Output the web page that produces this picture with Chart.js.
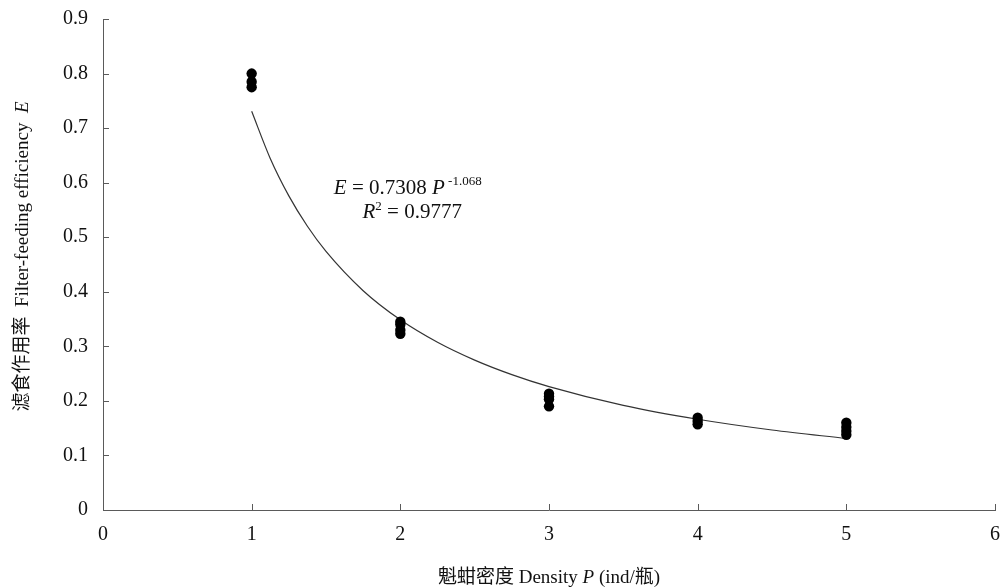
<!DOCTYPE html>
<html><head><meta charset="utf-8">
<script src="https://cdn.jsdelivr.net/npm/chart.js@4"></script>
<style>html,body{margin:0;padding:0;background:#fff}#wrap{width:1003px;height:587px;position:relative}</style>
</head><body><div id="wrap"><canvas id="c"></canvas></div>
<script>
const densityX     = [1, 1, 1, 2, 2, 2, 2, 3, 3, 3, 3, 4, 4, 4, 5, 5, 5, 5];
const efficiencyY  = [0.800, 0.785, 0.775, 0.345, 0.340, 0.330, 0.323, 0.213, 0.208, 0.203, 0.190, 0.169, 0.163, 0.157, 0.160, 0.152, 0.145, 0.138];
// Power trendline E = 0.7308 P^-1.068, sampled values
const trendX = [1, 1.125, 1.25, 1.375, 1.5, 1.75, 2, 2.25, 2.5, 2.75, 3, 3.5, 4, 4.5, 5];
const trendY = [0.7308, 0.6444, 0.5758, 0.5201, 0.4740, 0.4020, 0.3486, 0.3074, 0.2747, 0.2481, 0.2261, 0.1917, 0.1663, 0.1466, 0.1310];
const xTickValues = [0, 1, 2, 3, 4, 5, 6];
const yTickValues = [0, 0.1, 0.2, 0.3, 0.4, 0.5, 0.6, 0.7, 0.8, 0.9];
const equationLine = ['E', ' = 0.7308 ', 'P', ' -1.068'];
const r2Line = ['R', '2', ' = 0.9777'];
const yTitle = ['滤食作用率  Filter-feeding efficiency  ', 'E'];
const xTitle = ['魁蚶密度 Density ', 'P', ' (ind/瓶)'];

const SERIF = '"Liberation Serif", "Times New Roman", "Noto Sans CJK SC", serif';
const AXIS_COLOR = '#5a5a5a';

function drawRuns(ctx, runs, x, y) {
  let total = 0;
  runs.forEach(r => { ctx.font = r.font; r.w = ctx.measureText(r.t).width; total += r.w; });
  let cx = x - total / 2;
  ctx.textAlign = 'left';
  ctx.textBaseline = 'alphabetic';
  runs.forEach(r => { ctx.font = r.font; ctx.fillText(r.t, cx, y + (r.dy || 0)); cx += r.w; });
}

const decor = {
  id: 'decor',
  afterDraw(chart) {
    const ctx = chart.ctx;
    const xs = chart.scales.x, ys = chart.scales.y;
    ctx.save();
    ctx.strokeStyle = AXIS_COLOR;
    ctx.lineWidth = 1;
    ctx.beginPath();
    xTickValues.forEach(v => {
      const px = Math.round(xs.getPixelForValue(v)) + 0.5;
      ctx.moveTo(px, ys.bottom); ctx.lineTo(px, ys.bottom - 6);
    });
    yTickValues.forEach(v => {
      const py = Math.round(ys.getPixelForValue(v)) + 0.5;
      ctx.moveTo(xs.left, py); ctx.lineTo(xs.left + 6, py);
    });
    ctx.stroke();

    ctx.fillStyle = '#111';
    const n = '21px ' + SERIF, it = 'italic 21px ' + SERIF, sup = '13px ' + SERIF;
    const ax = xs.getPixelForValue(2.05);
    const ay = ys.getPixelForValue(0.58);
    drawRuns(ctx, [
      {t: equationLine[0], font: it}, {t: equationLine[1], font: n},
      {t: equationLine[2], font: it}, {t: equationLine[3], font: sup, dy: -9}
    ], ax, ay);
    const by = ys.getPixelForValue(0.535);
    drawRuns(ctx, [
      {t: r2Line[0], font: it}, {t: r2Line[1], font: sup, dy: -8}, {t: r2Line[2], font: n}
    ], xs.getPixelForValue(2.08), by);

    const tn = '19px ' + SERIF, ti = 'italic 19px ' + SERIF;
    drawRuns(ctx, [{t: xTitle[0], font: tn}, {t: xTitle[1], font: ti}, {t: xTitle[2], font: tn}],
      (xs.left + xs.right) / 2, 583);
    ctx.translate(28, (ys.top + ys.bottom) / 2 - 8);
    ctx.rotate(-Math.PI / 2);
    drawRuns(ctx, [{t: yTitle[0], font: tn}, {t: yTitle[1], font: ti}], 0, 0);
    ctx.restore();
  }
};

new Chart(document.getElementById('c'), {
  type: 'scatter',
  data: {
    datasets: [
      {
        label: 'Observed',
        data: densityX.map((x, i) => ({x, y: efficiencyY[i]})),
        backgroundColor: '#000', borderColor: '#000', borderWidth: 0,
        pointRadius: 5.2, pointHoverRadius: 5.2, order: 1
      },
      {
        label: 'Power fit',
        type: 'line',
        data: trendX.map((x, i) => ({x, y: trendY[i]})),
        borderColor: '#333', borderWidth: 1.2, pointRadius: 0,
        cubicInterpolationMode: 'monotone', fill: false, order: 2
      }
    ]
  },
  options: {
    responsive: true, maintainAspectRatio: false, animation: false,
    devicePixelRatio: 1,
    layout: {padding: {top: 19, right: 8, left: 0, bottom: 0}},
    plugins: {legend: {display: false}, tooltip: {enabled: false}},
    scales: {
      x: {
        type: 'linear', min: 0, max: 6,
        afterBuildTicks: s => { s.ticks = xTickValues.map(v => ({value: v})); },
        ticks: {font: {family: SERIF, size: 20}, color: '#111', padding: 13,
                callback: v => String(v), maxRotation: 0},
        grid: {drawOnChartArea: false, drawTicks: false},
        border: {display: true, color: AXIS_COLOR, width: 1},
        afterFit: s => { s.height = 77; s.paddingLeft = 0; s.paddingRight = 0; }
      },
      y: {
        type: 'linear', min: 0, max: 0.9,
        afterBuildTicks: s => { s.ticks = yTickValues.map(v => ({value: v})); },
        ticks: {font: {family: SERIF, size: 20}, color: '#111', padding: 15,
                callback: v => v === 0 ? '0' : v.toFixed(1)},
        grid: {drawOnChartArea: false, drawTicks: false},
        border: {display: true, color: AXIS_COLOR, width: 1},
        afterFit: s => { s.width = 103; s.paddingTop = 0; s.paddingBottom = 0; }
      }
    }
  },
  plugins: [decor]
});
</script>
</body></html>
